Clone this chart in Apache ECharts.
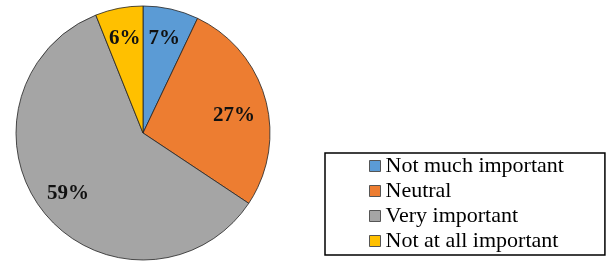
<!DOCTYPE html>
<html>
<head>
<meta charset="utf-8">
<script src="https://cdn.jsdelivr.net/npm/echarts@6/dist/echarts.min.js"></script>
<style>
  html, body { margin: 0; padding: 0; background: #fff; }
  #chart { width: 609px; height: 262px; }
</style>
</head>
<body>
<div id="chart"></div>
<script>
const categories = ['Not much important', 'Neutral', 'Very important', 'Not at all important'];
const values = [7, 27, 59, 6];
const colors = ['#5B9BD5', '#ED7D31', '#A5A5A5', '#FFC000'];

const serif = '"Liberation Serif", "Times New Roman", serif';
const center = [143, 133];

const chart = echarts.init(document.getElementById('chart'));

const pieData = categories.map((name, i) => ({ name, value: values[i], itemStyle: { color: colors[i] } }));

// transparent ring only used to place the % labels further out than the default mid-radius
const labelData = categories.map((name, i) => ({
  name: name + ' ',
  value: values[i],
  label: i === 1 ? { offset: [-2, 8] } : {},
}));

chart.setOption({
  animation: false,
  legend: {
    orient: 'vertical',
    left: 325,
    top: 153,
    padding: [2, 41, 3, 44],
    borderColor: '#000',
    borderWidth: 1.5,
    itemWidth: 11,
    itemHeight: 11,
    itemGap: 3,
    icon: 'rect',
    itemStyle: { borderColor: '#555', borderWidth: 1 },
    textStyle: { fontFamily: serif, fontSize: 22, color: '#000' },
    data: categories,
  },
  series: [
    {
      type: 'pie',
      center,
      radius: 127,
      startAngle: 90,
      clockwise: true,
      data: pieData,
      itemStyle: { borderColor: '#222', borderWidth: 0.8 },
      label: { show: false },
      labelLine: { show: false },
      emphasis: { disabled: true },
    },
    {
      type: 'pie',
      center,
      radius: [60, 127],
      startAngle: 90,
      clockwise: true,
      silent: true,
      legendHoverLink: false,
      data: labelData,
      itemStyle: { color: 'transparent', borderWidth: 0 },
      label: {
        show: true,
        position: 'inside',
        formatter: (p) => p.value + '%',
        fontFamily: serif,
        fontWeight: 'bold',
        fontSize: 21,
        color: '#111',
      },
      labelLine: { show: false },
      emphasis: { disabled: true },
    },
  ],
});
</script>
</body>
</html>
